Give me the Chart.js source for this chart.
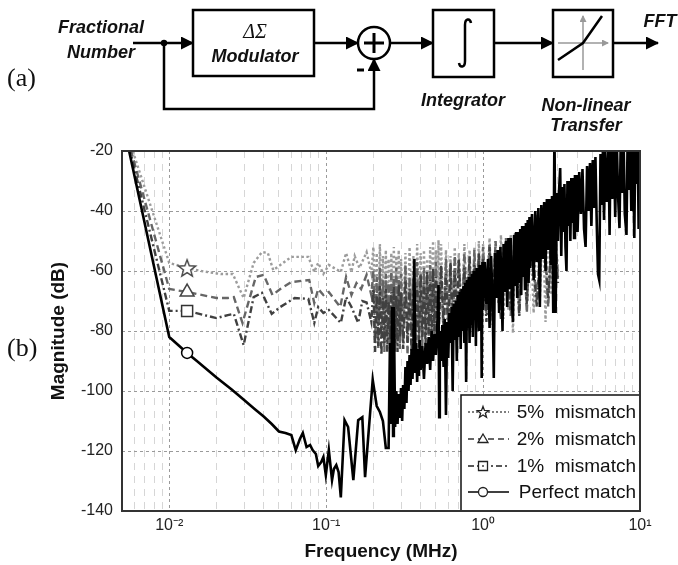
<!DOCTYPE html>
<html>
<head>
<meta charset="utf-8">
<script src="https://cdn.jsdelivr.net/npm/chart.js@4.4.0/dist/chart.umd.min.js"></script>
<style>
  html, body { margin: 0; padding: 0; background: #fff; }
  #wrap { position: relative; width: 678px; height: 565px; }
  #chart, #diagram { position: absolute; left: 0; top: 0; }
  #diagram { pointer-events: none; }
</style>
</head>
<body>
<div id="wrap">
  <canvas id="chart" width="678" height="565"></canvas>
  <svg id="diagram" width="678" height="565" viewBox="0 0 678 565">
    <defs>
      <marker id="ah" markerUnits="userSpaceOnUse" markerWidth="13" markerHeight="13" viewBox="0 0 13 13" refX="12" refY="6.5" orient="auto">
        <path d="M0,0 L13,6.5 L0,13 Z" fill="#000"/>
      </marker>
      <marker id="ahg" markerUnits="userSpaceOnUse" markerWidth="7" markerHeight="7" viewBox="0 0 7 7" refX="6" refY="3.5" orient="auto">
        <path d="M0,0 L7,3.5 L0,7 Z" fill="#999"/>
      </marker>
    </defs>
    <g font-family="Liberation Sans, Arial, sans-serif" font-weight="bold" font-style="italic" font-size="18" fill="#111" text-anchor="middle">
      <text x="101" y="33">Fractional</text>
      <text x="101" y="58">Number</text>
      <text x="255" y="62">Modulator</text>
      <text x="463" y="106">Integrator</text>
      <text x="586" y="111">Non-linear</text>
      <text x="586" y="131">Transfer</text>
      <text x="660" y="27">FFT</text>
    </g>
    <text x="255" y="38" font-family="Liberation Serif, serif" font-style="italic" font-size="20" text-anchor="middle" fill="#111">ΔΣ</text>
    <g stroke="#000" stroke-width="2.5" fill="none">
      <line x1="133" y1="43" x2="193" y2="43" marker-end="url(#ah)"/>
      <rect x="193" y="10" width="121" height="66"/>
      <line x1="314" y1="43" x2="358" y2="43" marker-end="url(#ah)"/>
      <circle cx="374" cy="43" r="16"/>
      <line x1="364" y1="43" x2="384" y2="43" stroke-width="3"/>
      <line x1="374" y1="33" x2="374" y2="53" stroke-width="3"/>
      <line x1="357" y1="70" x2="364" y2="70" stroke-width="3"/>
      <polyline points="164,43 164,109 374,109 374,59" marker-end="url(#ah)"/>
      <line x1="390" y1="43" x2="433" y2="43" marker-end="url(#ah)"/>
      <rect x="433" y="10" width="61" height="67"/>
      <path d="M471,23 C470,18 465,18 465,25 L465,61 C465,68 460,68 459,63"/>
      <line x1="494" y1="43" x2="553" y2="43" marker-end="url(#ah)"/>
      <rect x="553" y="10" width="60" height="67"/>
      <line x1="613" y1="43" x2="658" y2="43" marker-end="url(#ah)"/>
    </g>
    <g stroke="#999" stroke-width="1.5">
      <line x1="583" y1="70" x2="583" y2="16" marker-end="url(#ahg)"/>
      <line x1="558" y1="43" x2="608" y2="43" marker-end="url(#ahg)"/>
    </g>
    <polyline points="558,60 583,43 602,16" stroke="#000" stroke-width="2.5" fill="none"/>
    <circle cx="164" cy="43" r="3.2" fill="#000"/>
    <g font-family="Liberation Serif, serif" font-size="26" fill="#111">
      <text x="7" y="86">(a)</text>
      <text x="7" y="356">(b)</text>
    </g>
  </svg>
</div>
<script>
// [frequency MHz, magnitude dB]
const perfectMatch = [
  [0.005,-9],[0.01,-82],[0.013,-87.3],[0.015,-90],[0.02,-95.5],[0.025,-99.5],[0.03,-103],[0.035,-106],
  [0.04,-108.5],[0.045,-111],[0.05,-113.5],[0.055,-114],[0.06,-114.7],[0.064,-119.7],[0.068,-116],[0.071,-114],
  [0.075,-118.7],[0.079,-118],[0.082,-119.7],[0.086,-121],[0.089,-125],[0.093,-123.7],[0.096,-122],[0.0995,-128],
  [0.104,-119.7],[0.109,-129.7],[0.112,-126],[0.116,-124.7],[0.12,-127],[0.124,-135.5],[0.131,-109.7],[0.138,-112],
  [0.149,-129.7],[0.16,-109.7],[0.17,-108.7],[0.177,-128.7],[0.198,-96.3],[0.21,-105],[0.22,-107],[0.23,-110],
  [0.24,-119],[0.25,-119],[0.255,-84],[0.26,-111],[0.263,-72],[0.267,-115],[0.27,-72],[0.275,-112],[0.28,-100],
  [0.285,-111],[0.29,-101],[0.295,-109],[0.3,-99],[0.305,-110],[0.31,-98],[0.315,-106],[0.32,-92],[0.325,-104],
  [0.33,-90],[0.335,-100],[0.34,-88],[0.345,-98],[0.35,-86],[0.355,-96],[0.36,-85],[0.365,-56],[0.37,-94],
  [0.375,-84],[0.38,-97],[0.385,-86],[0.39,-95],[0.395,-83],[0.4,-93],[0.41,-85],[0.42,-96],[0.43,-84],[0.44,-91],
  [0.45,-82],[0.46,-93],[0.47,-80],[0.48,-90],[0.49,-81],[0.5,-88],[0.51,-79],[0.52,-64.7],[0.525,-108.7],
  [0.53,-80],[0.54,-90],[0.55,-78],[0.56,-92],[0.57,-76],[0.58,-108],[0.59,-77],
  [0.6,-89],[0.61,-74],[0.62,-84],[0.63,-72],[0.64,-100],[0.65,-71],[0.66,-83],[0.67,-70],[0.68,-90],[0.69,-68],
  [0.7,-82],[0.71,-67],[0.72,-86],[0.73,-66],[0.74,-80],[0.75,-65],[0.76,-84],[0.77,-64],[0.78,-97],[0.79,-63],
  [0.8,-79],[0.81,-62],[0.82,-84],[0.83,-62],[0.84,-78],[0.85,-61],[0.86,-82],[0.87,-60],[0.88,-76],[0.89,-60],
  [0.9,-85],[0.91,-59],[0.92,-75],[0.93,-59],[0.94,-80],[0.95,-58],[0.96,-74],[0.97,-58],[0.98,-95.7],[0.99,-57],
  [1,-73],[1.025,-57],[1.05,-71],[1.075,-56],[1.1,-79],[1.125,-55],[1.15,-70],[1.17,-95.7],[1.19,-54],[1.215,-69],
  [1.24,-53],[1.265,-74],[1.29,-52],[1.315,-68],[1.33,-80],[1.35,-51],[1.375,-67],[1.4,-50],[1.425,-72],[1.45,-49],
  [1.475,-66],[1.5,-49],[1.525,-70],[1.55,-77],[1.575,-48],[1.6,-65],[1.625,-47],[1.65,-69],[1.675,-47],[1.7,-64],
  [1.725,-46],[1.75,-68],[1.775,-45],[1.8,-62],[1.825,-45],[1.85,-66],[1.875,-44],[1.9,-61],[1.925,-43],[1.95,-64],
  [1.975,-42],[2,-59],[2.05,-41],[2.1,-63],[2.15,-40],[2.2,-57],[2.25,-39],[2.3,-72],[2.35,-38],[2.4,-56],
  [2.45,-37],[2.5,-60],[2.55,-36],[2.6,-53],[2.65,-36],[2.7,-58],[2.75,-35],[2.8,-74],[2.85,-12],[2.9,-74],
  [2.95,-34],[3,-50],[3.05,-33],[3.1,-25.7],[3.15,-55],[3.2,-32],[3.25,-47],[3.3,-31],[3.35,-52],[3.4,-60],
  [3.45,-30],[3.5,-45],[3.55,-30],[3.6,-50],[3.65,-29],[3.7,-44],[3.75,-29],[3.8,-49],[3.85,-28],[3.9,-42],
  [3.95,-28],[4,-47],[4.1,-27],[4.2,-41],[4.3,-26],[4.4,-46],[4.5,-52],[4.6,-25],[4.7,-40],[4.8,-24],[4.9,-45],
  [5,-23],[5.1,-39],[5.2,-22],[5.3,-44],[5.4,-61],[5.5,-63],[5.6,-21],[5.7,-38],[5.8,-20],[5.9,-43],[6,-19],
  [6.15,-37],[6.3,-18],[6.4,-48],[6.5,-17],[6.65,-36],[6.8,-16],[6.95,-42],[7.1,-15],[7.25,-35],[7.4,-45.7],
  [7.55,-14],[7.7,-34],[7.85,-14],[8,-41],[8.2,-48],[8.35,-13],[8.5,-33],[8.65,-13],[8.8,-40],[8.95,-12],
  [9.1,-32],[9.2,-49],[9.35,-12],[9.5,-31],[9.65,-12],[9.8,-46],[9.9,-12],[10,-34]
];

const mismatch5 = [
  [0.005,-9],[0.01,-57.3],[0.013,-59],[0.016,-60],[0.0213,-61],[0.0254,-61],[0.0298,-69],[0.0345,-57.3],
  [0.039,-53.7],[0.0425,-54],[0.046,-59.7],[0.051,-58],[0.06,-55.3],[0.077,-55.3],[0.084,-60.3],[0.089,-57.3],
  [0.096,-61],[0.104,-58],[0.124,-60.3],[0.134,-54],[0.145,-60.3],[0.152,-55],[0.163,-59],[0.181,-53.7],
  [0.194,-60.7],[0.2,-52],[0.205,-74],[0.21,-54],[0.215,-76],[0.22,-51],[0.225,-73],[0.23,-55],[0.235,-78],
  [0.24,-53],[0.245,-72],[0.25,-56],[0.255,-80],[0.26,-54],[0.265,-75],[0.27,-52],[0.275,-79],[0.28,-55],
  [0.285,-74],[0.29,-53],[0.295,-83],[0.3,-56],[0.31,-76],[0.32,-54],[0.33,-80],[0.34,-52],[0.35,-75],[0.36,-55],
  [0.37,-82],[0.38,-51],[0.39,-74],[0.4,-54],[0.41,-79],[0.42,-53],[0.43,-77],[0.44,-56],[0.45,-81],[0.46,-52],
  [0.47,-74],[0.48,-50],[0.49,-78],[0.5,-53],[0.51,-73],[0.52,-49.7],[0.53,-76],[0.54,-51],[0.56,-80],[0.58,-53],
  [0.6,-75],[0.62,-55],[0.64,-79],[0.66,-52],[0.68,-74],[0.7,-54],[0.73,-77],[0.76,-51],[0.79,-73],[0.82,-53],
  [0.85,-76],[0.88,-52],[0.91,-72],[0.94,-50],[0.97,-75],[1,-51],[1.05,-72],[1.1,-49],[1.15,-78],[1.2,-50],
  [1.25,-71],[1.3,-48],[1.35,-76],[1.4,-49],[1.45,-73],[1.5,-48],[1.55,-80.7],[1.6,-47],[1.7,-75],[1.8,-45],
  [1.9,-72],[2,-43],[2.1,-74],[2.2,-41],[2.3,-70],[2.4,-40],[2.5,-77],[2.6,-38],[2.7,-68],[2.8,-36],[3,-60]
];

const mismatch2 = [
  [0.005,-9],[0.01,-66],[0.013,-67],[0.02,-69],[0.0236,-69],[0.0258,-68.7],[0.0293,-77.3],[0.0356,-62],
  [0.04,-61.3],[0.0455,-68],[0.051,-66],[0.06,-63.7],[0.078,-63],[0.084,-70.7],[0.089,-66],[0.096,-68],
  [0.104,-67],[0.123,-72],[0.134,-62],[0.145,-68],[0.156,-64],[0.167,-66],[0.181,-61.3],[0.194,-68],
  [0.2,-60],[0.205,-84],[0.21,-62],[0.215,-86],[0.22,-59],[0.225,-82],[0.23,-63],[0.235,-87],[0.24,-61],
  [0.245,-80],[0.25,-64],[0.255,-86],[0.26,-60],[0.265,-83],[0.27,-62],[0.275,-87],[0.28,-59],[0.285,-81],
  [0.29,-63],[0.295,-86],[0.3,-61],[0.31,-84],[0.32,-58],[0.33,-88],[0.34,-62],[0.35,-82],[0.36,-60],[0.37,-86],
  [0.38,-57],[0.39,-83],[0.4,-61],[0.41,-85],[0.42,-59],[0.43,-81],[0.44,-62],[0.45,-84],[0.46,-58],[0.47,-80],
  [0.48,-60],[0.49,-83],[0.5,-57],[0.52,-79],[0.54,-59],[0.56,-82],[0.58,-56],[0.6,-78],[0.62,-58],[0.64,-81],
  [0.66,-55],[0.68,-77],[0.7,-57],[0.73,-80],[0.76,-54],[0.79,-76],[0.82,-56],[0.85,-79],[0.88,-53],[0.91,-75],
  [0.94,-55],[0.97,-78],[1,-52],[1.05,-74],[1.1,-51],[1.15,-77],[1.2,-50],[1.3,-73],[1.4,-49],[1.5,-75],
  [1.6,-47],[1.7,-72],[1.8,-45],[1.9,-74],[2,-43],[2.2,-70],[2.4,-40],[2.6,-72],[2.8,-37],[3,-62]
];

const mismatch1 = [
  [0.005,-9],[0.01,-73.3],[0.013,-73.3],[0.02,-75.7],[0.0236,-74.7],[0.0258,-74.3],[0.0298,-84.7],[0.0345,-68.7],
  [0.039,-67.3],[0.045,-74.3],[0.051,-72],[0.063,-69],[0.077,-69.3],[0.084,-77.3],[0.089,-72],[0.096,-74],
  [0.104,-73],[0.124,-77.3],[0.134,-68.7],[0.145,-72],[0.16,-77.3],[0.17,-70],[0.181,-70.5],[0.194,-77],
  [0.2,-66],[0.205,-87],[0.21,-68],[0.215,-85],[0.22,-65],[0.225,-88],[0.23,-69],[0.235,-84],[0.24,-66],
  [0.245,-87],[0.25,-70],[0.255,-83],[0.26,-67],[0.265,-88],[0.27,-65],[0.275,-84],[0.28,-68],[0.285,-87],
  [0.29,-64],[0.295,-82],[0.3,-67],[0.31,-86],[0.32,-63],[0.33,-84],[0.34,-66],[0.35,-87],[0.36,-62],[0.37,-83],
  [0.38,-65],[0.39,-86],[0.4,-61],[0.41,-82],[0.42,-64],[0.43,-85],[0.44,-60],[0.45,-81],[0.46,-63],[0.47,-84],
  [0.48,-59],[0.49,-80],[0.5,-62],[0.52,-83],[0.54,-58],[0.56,-79],[0.58,-61],[0.6,-82],[0.62,-57],[0.64,-78],
  [0.66,-60],[0.68,-81],[0.7,-56],[0.73,-77],[0.76,-59],[0.79,-80],[0.82,-55],[0.85,-76],[0.88,-58],[0.91,-79],
  [0.94,-54],[0.97,-75],[1,-56],[1.05,-77],[1.1,-52],[1.15,-74],[1.2,-53],[1.3,-76],[1.4,-50],[1.5,-73],
  [1.6,-48],[1.7,-75],[1.8,-46],[1.9,-71],[2,-44],[2.2,-72],[2.4,-41],[2.6,-69],[2.8,-38],[3,-64]
];

const seriesLabels = ['5%  mismatch', '2%  mismatch', '1%  mismatch', 'Perfect match'];
const markerFreq = 0.013;

const yTicks = [-140, -120, -100, -80, -60, -40, -20];
const xMajorTicks = [0.01, 0.1, 1, 10];
const xTickLabels = ['10\u207B\u00B2', '10\u207B\u00B9', '10\u2070', '10\u00B9'];
const xMinorTicks = [0.005, 0.006, 0.007, 0.008, 0.009,
  0.02, 0.03, 0.04, 0.05, 0.06, 0.07, 0.08, 0.09,
  0.2, 0.3, 0.4, 0.5, 0.6, 0.7, 0.8, 0.9,
  2, 3, 4, 5, 6, 7, 8, 9];

const FONT = 'Liberation Sans, Arial, sans-serif';
Chart.defaults.font.family = FONT;

function starPath(g, cx, cy, R, r) {
  g.beginPath();
  for (let i = 0; i < 10; i++) {
    const a = -Math.PI / 2 + i * Math.PI / 5;
    const d = i % 2 ? r : R;
    g.lineTo(cx + d * Math.cos(a), cy + d * Math.sin(a));
  }
  g.closePath();
}

function makeStar(R, color) {
  const c = document.createElement('canvas');
  const s = Math.ceil(R * 2 + 4);
  c.width = s; c.height = s;
  const g = c.getContext('2d');
  starPath(g, s / 2, s / 2 + 0.8, R, R * 0.42);
  g.fillStyle = '#fff'; g.fill();
  g.strokeStyle = color; g.lineWidth = 1.4; g.stroke();
  return c;
}

const styles = [
  { color: '#9c9c9c', dash: [2.5, 2.5], marker: makeStar(9, '#444'), r: 9, mcolor: '#444' },
  { color: '#666666', dash: [7, 4], marker: 'triangle', r: 8, mcolor: '#444' },
  { color: '#404040', dash: [7, 3, 2, 3], marker: 'rect', r: 7.8, mcolor: '#333' },
  { color: '#000000', dash: [], marker: 'circle', r: 5.5, mcolor: '#000' }
];
const seriesData = [mismatch5, mismatch2, mismatch1, perfectMatch];

function makeDataset(k) {
  const st = styles[k];
  return {
    label: seriesLabels[k],
    data: seriesData[k].map(p => ({ x: p[0], y: p[1] })),
    borderColor: st.color,
    borderWidth: k === 3 ? 2.6 : 2.4,
    borderDash: st.dash,
    pointStyle: st.marker,
    pointRadius: c => (c.raw && c.raw.x === markerFreq ? st.r : 0),
    pointBackgroundColor: '#fff',
    pointBorderColor: st.mcolor,
    pointBorderWidth: 1.5,
    tension: 0
  };
}

const isMajor = v => xMajorTicks.includes(v);

function drawKeyMarker(ctx, k, x, y) {
  const col = '#222';
  ctx.save();
  ctx.setLineDash([]);
  ctx.fillStyle = '#fff';
  ctx.strokeStyle = col;
  ctx.lineWidth = 1.3;
  if (k === 0) {
    starPath(ctx, x, y + 0.5, 6, 2.5);
  } else if (k === 1) {
    ctx.beginPath();
    ctx.moveTo(x, y - 5); ctx.lineTo(x + 5, y + 3.5); ctx.lineTo(x - 5, y + 3.5); ctx.closePath();
  } else if (k === 2) {
    ctx.beginPath();
    ctx.rect(x - 4.5, y - 4.5, 9, 9);
  } else {
    ctx.beginPath();
    ctx.arc(x, y, 4.5, 0, Math.PI * 2);
  }
  ctx.fill(); ctx.stroke();
  if (k === 2) { ctx.fillStyle = col; ctx.fillRect(x - 0.8, y - 0.8, 1.6, 1.6); }
  ctx.restore();
}

const frameAndKey = {
  id: 'frameAndKey',
  afterDatasetsDraw(chart) {
    const { ctx, chartArea: a } = chart;
    const right = a.right, bottom = a.bottom;
    const left = right - 179, top = bottom - 116;
    ctx.save();
    ctx.fillStyle = '#fff';
    ctx.fillRect(left, top, right - left, bottom - top);
    ctx.strokeStyle = '#111';
    ctx.lineWidth = 1.5;
    ctx.strokeRect(left, top, right - left, bottom - top);
    const rows = [17, 44, 71, 97];
    const keyDash = [[2, 2], [6, 4], [6, 3, 2, 3], []];
    const keyCol = ['#555', '#333', '#222', '#000'];
    rows.forEach((dy, k) => {
      const y = top + dy;
      ctx.beginPath();
      ctx.setLineDash(keyDash[k]);
      ctx.strokeStyle = keyCol[k];
      ctx.lineWidth = 1.5;
      ctx.moveTo(left + 7, y);
      ctx.lineTo(left + 48, y);
      ctx.stroke();
      drawKeyMarker(ctx, k, left + 22, y);
      ctx.setLineDash([]);
      ctx.fillStyle = '#111';
      ctx.font = '19px ' + FONT;
      ctx.textAlign = 'right';
      ctx.textBaseline = 'middle';
      ctx.fillText(seriesLabels[k], right - 4, y + 1);
    });
    ctx.strokeStyle = '#333';
    ctx.lineWidth = 2;
    ctx.strokeRect(a.left, a.top, a.right - a.left, a.bottom - a.top);
    ctx.restore();
  }
};

new Chart(document.getElementById('chart').getContext('2d'), {
  type: 'line',
  data: { datasets: [makeDataset(3), makeDataset(2), makeDataset(1), makeDataset(0)] },
  options: {
    responsive: false,
    animation: false,
    events: [],
    layout: { padding: { left: 47, right: 38, top: 151, bottom: 2 } },
    plugins: { legend: { display: false }, tooltip: { enabled: false } },
    scales: {
      x: {
        type: 'logarithmic',
        min: 0.005,
        max: 10,
        afterBuildTicks: s => { s.ticks = xMinorTicks.concat(xMajorTicks).sort((p, q) => p - q).map(v => ({ value: v })); },
        afterFit: s => { s.height = 52; },
        ticks: {
          autoSkip: false,
          maxRotation: 0,
          padding: 5,
          color: '#222',
          font: { size: 16 },
          callback: v => { const i = xMajorTicks.indexOf(v); return i >= 0 ? xTickLabels[i] : ''; }
        },
        grid: {
          drawTicks: false,
          lineWidth: 1,
          color: c => (c.tick && isMajor(c.tick.value) ? '#9a9a9a' : '#d6d6d6')
        },
        border: {
          display: false,
          dash: c => (c.tick ? (isMajor(c.tick.value) ? [3, 3] : [7, 6]) : [])
        },
        title: {
          display: true,
          text: 'Frequency (MHz)',
          color: '#111',
          font: { size: 19, weight: 'bold' },
          padding: { top: 0, bottom: 0 }
        }
      },
      y: {
        min: -140,
        max: -20,
        afterBuildTicks: s => { s.ticks = yTicks.map(v => ({ value: v })); },
        afterFit: s => { s.width = 75; },
        ticks: { padding: 9, color: '#222', font: { size: 16 } },
        grid: { drawTicks: false, lineWidth: 1, color: '#9a9a9a' },
        border: { display: false, dash: [3, 3] },
        title: {
          display: true,
          text: 'Magnitude (dB)',
          color: '#111',
          font: { size: 19, weight: 'bold' },
          padding: { top: 0, bottom: 0 }
        }
      }
    }
  },
  plugins: [frameAndKey]
});
</script>
</body>
</html>
